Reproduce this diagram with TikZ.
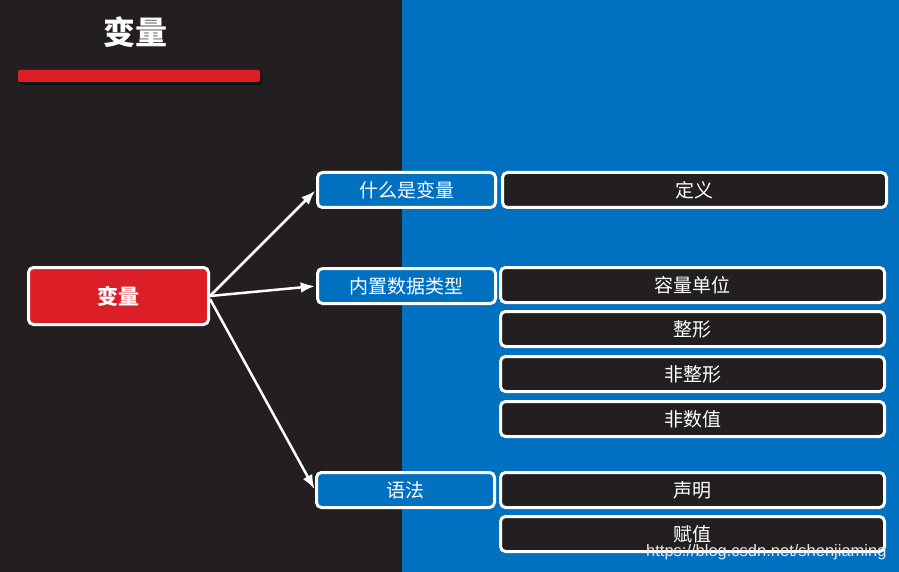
\documentclass[tikz,border=0pt]{standalone}
\usepackage{fontspec}
\setmainfont{Noto Sans CJK SC}
\newfontfamily\wmfont{Liberation Sans}
\usetikzlibrary{arrows.meta,positioning}
\definecolor{DarkBg}{RGB}{35,31,32}
\definecolor{MainBlue}{RGB}{0,112,192}
\definecolor{MainRed}{RGB}{220,31,38}

\begin{document}
\begin{tikzpicture}[x=1pt,y=-1pt,>=Latex,
    box/.style={draw=white,line width=3pt,rounded corners=5pt,text=white,inner sep=0pt,
      font=\fontsize{19}{21}\selectfont},
    topic/.style={box,fill=MainBlue,minimum width=178pt,minimum height=35pt},
    item/.style={box,fill=DarkBg,minimum width=384pt,minimum height=35pt},
    arr/.style={->,draw=white,line width=2.5pt,shorten >=1pt}]
  % background
  \fill[DarkBg] (0,0) rectangle (402,572);
  \fill[MainBlue] (402,0) rectangle (899,572);
  \useasboundingbox (0,0) rectangle (899,572);
  % title and bar
  \node[text=white,font=\fontsize{32}{35}\selectfont\bfseries] (title) at (135,32) {变量};
  \fill[black,opacity=0.45,rounded corners=2pt] (20,73) rectangle (262,85);
  \fill[MainRed,rounded corners=2pt] (18,70) rectangle (260,82);
  % root
  \node[box,fill=MainRed,minimum width=180pt,minimum height=57pt,
    font=\fontsize{21}{24}\selectfont\bfseries] (root) at (118.5,296) {变量};
  % topics
  \node[topic] (what) at (406.5,190) {什么是变量};
  \node[topic] (types) at (406.5,286) {内置数据类型};
  \node[topic] (syntax) at (405.5,490) {语法};
  % items
  \node[item] (define) at (694.5,190) {定义};
  \node[item] (unit) at (692.5,285) {容量单位};
  \node[item] (int) at (692.5,329) {整形};
  \node[item] (float) at (692.5,374) {非整形};
  \node[item] (nan) at (692.5,419) {非数值};
  \node[item] (decl) at (692.5,490) {声明};
  \node[item] (assign) at (692.5,534) {赋值};
  % arrows
  \draw[arr] (root.east) -- (what.west);
  \draw[arr] (root.east) -- (types.west);
  \draw[arr] ([yshift=-3pt]root.east) -- (syntax.west);
  % watermark
  \node[anchor=east,text=white!82!gray,font=\wmfont\fontsize{16.5}{18}\selectfont] (mark) at (890,552)
    {https://blog.csdn.net/shenjiaming};
\end{tikzpicture}
\end{document}
